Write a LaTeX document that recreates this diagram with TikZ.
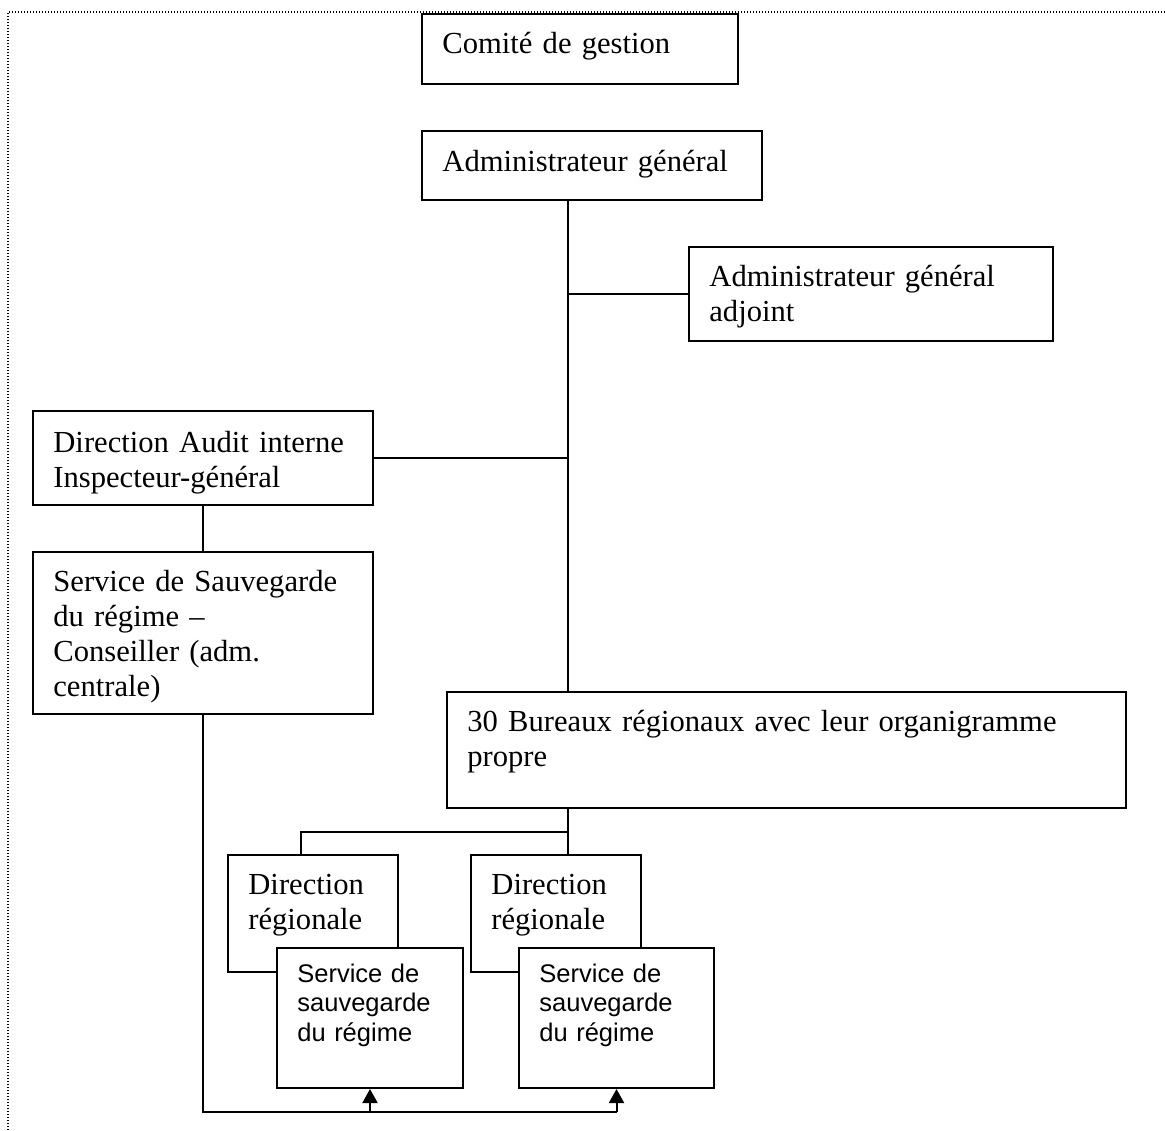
\documentclass[tikz,border=0pt]{standalone}
\usepackage{fontspec}
\setmainfont{Liberation Serif}
\setsansfont{Liberation Sans}
\usetikzlibrary{arrows.meta}
\tikzset{
  box/.style={draw, rectangle, line width=1pt, fill=white, inner sep=0pt},
  conn/.style={draw, line width=1pt},
  arr/.style={-{Triangle[width=7.5pt,length=7pt]}},
  serif/.style={font=\fontsize{15.3}{17.5}\selectfont\rmfamily, align=left, inner sep=0pt},
  sans/.style={font=\fontsize{12.75}{14.75}\selectfont\sffamily, align=left, inner sep=0pt},
  frame/.style={line width=0.7pt, dash pattern=on 0.6pt off 0.9pt, black}
}
% name, x1, y1, x2, y2, text style, baseline y, text
\newcommand\orgbox[8]{%
  \node[box, minimum width={(#4-#2)*0.5pt}, minimum height={(#5-#3)*0.5pt}]
    (#1) at ({(#2+#4)/2},{(#3+#5)/2}) {};
  \node[#6, anchor=base west, text width={(#4-#2-30)*0.5pt}]
    (#1-t) at ({#2+20},#7) {#8};
}
\begin{document}
\begin{tikzpicture}[x=0.5pt, y=-0.5pt]
\useasboundingbox (0,0) rectangle (1165,1130);
\draw[frame] (8,1130) -- (8,12) -- (1165,12);

\coordinate (trunk) at (568,0);
\coordinate (split) at (568,832);
\coordinate (dr1in) at (301,855);
\coordinate (bot) at (0,1112);

\orgbox{cg}{422}{14}{738}{84}{serif}{53}{Comité de gestion}
\orgbox{ag}{422}{131}{762}{200}{serif}{171}{Administrateur général}
\orgbox{aga}{689}{247}{1053}{341}{serif}{286}{Administrateur général\\adjoint}
\orgbox{da}{33}{411}{373}{505}{serif}{452}{Direction Audit interne\\Inspecteur-général}
\orgbox{svc}{33}{552}{373}{714}{serif}{591}{Service de Sauvegarde\\du régime –\\Conseiller (adm.\\centrale)}
\orgbox{bur}{447}{692}{1126}{808}{serif}{731}{30 Bureaux régionaux avec leur organigramme\\propre}
\orgbox{dr1}{228}{855}{398}{972}{serif}{894}{Direction\\régionale}
\orgbox{dr2}{471}{855}{641}{972}{serif}{894}{Direction\\régionale}
\orgbox{ssr1}{277}{948}{463}{1088}{sans}{982}{Service de\\sauvegarde\\du régime}
\orgbox{ssr2}{519}{948}{714}{1088}{sans}{982}{Service de\\sauvegarde\\du régime}

\draw[conn] (ag.south -| trunk) -- (bur.north -| trunk);
\draw[conn] (aga.west) -- (aga.west -| trunk);
\draw[conn] (da.east) -- (da.east -| trunk);
\draw[conn] (da.south) -- (svc.north);
\draw[conn] (bur.south -| trunk) -- (dr2.north -| trunk);
\draw[conn] (split) -| (dr1in);
\draw[conn] (svc.south) |- (ssr2.south |- bot);
\draw[conn, arr] (ssr1.south |- bot) -- (ssr1.south);
\draw[conn, arr] (ssr2.south |- bot) -- (ssr2.south);
\end{tikzpicture}
\end{document}
